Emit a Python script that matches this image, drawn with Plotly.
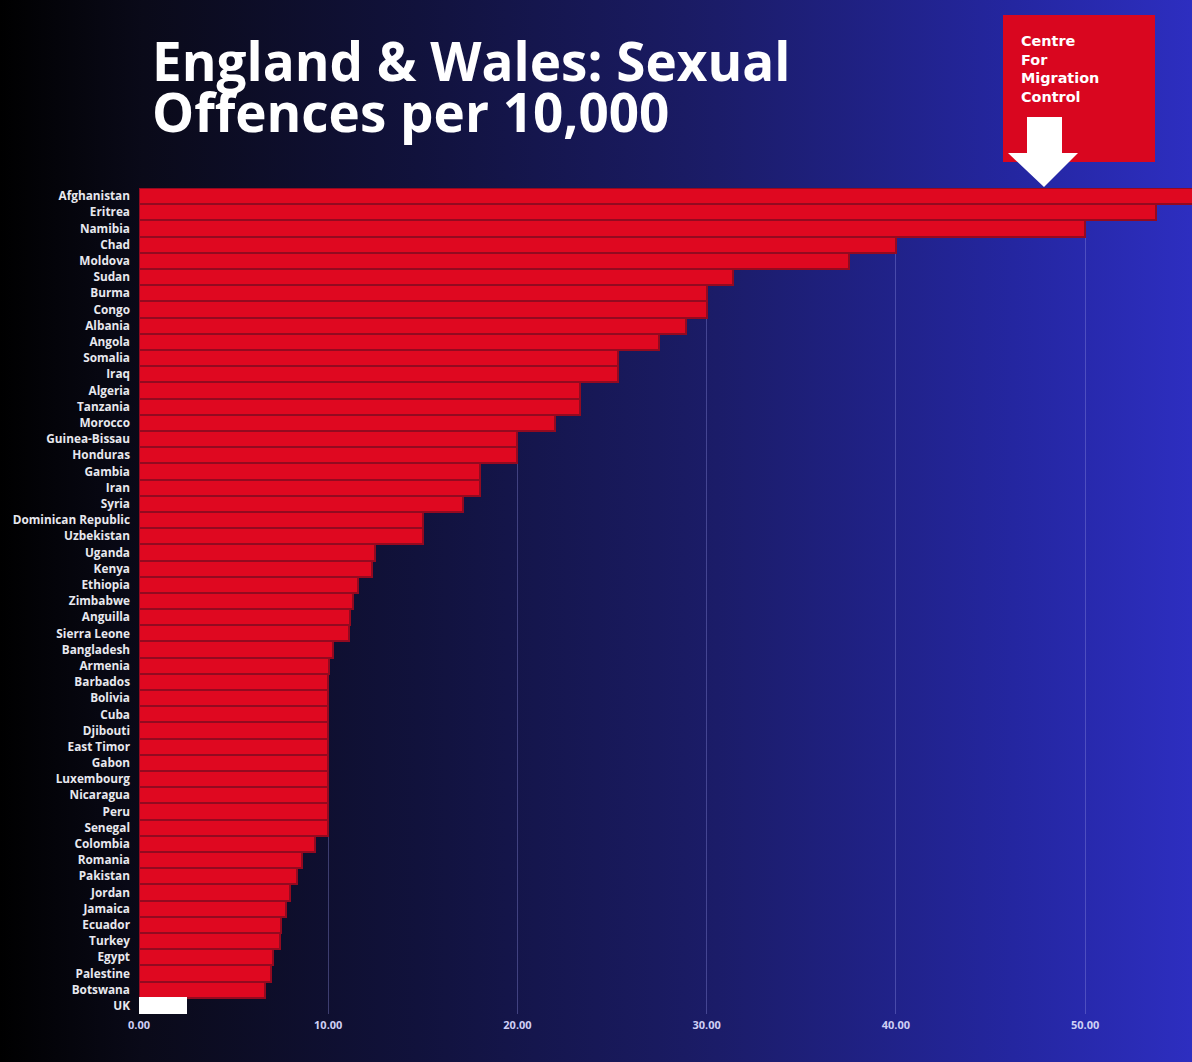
import base64

import plotly.graph_objects as go

# data, top to bottom
countries = [
    "Afghanistan", "Eritrea", "Namibia", "Chad", "Moldova", "Sudan", "Burma",
    "Congo", "Albania", "Angola", "Somalia", "Iraq", "Algeria", "Tanzania",
    "Morocco", "Guinea-Bissau", "Honduras", "Gambia", "Iran", "Syria",
    "Dominican Republic", "Uzbekistan", "Uganda", "Kenya", "Ethiopia",
    "Zimbabwe", "Anguilla", "Sierra Leone", "Bangladesh", "Armenia",
    "Barbados", "Bolivia", "Cuba", "Djibouti", "East Timor", "Gabon",
    "Luxembourg", "Nicaragua", "Peru", "Senegal", "Colombia", "Romania",
    "Pakistan", "Jordan", "Jamaica", "Ecuador", "Turkey", "Egypt",
    "Palestine", "Botswana", "UK",
]
offences_per_10k = [
    57.5, 53.75, 50.0, 40.0, 37.5, 31.4, 30.0,
    30.0, 28.9, 27.5, 25.3, 25.3, 23.3, 23.3,
    22.0, 20.0, 20.0, 18.0, 18.0, 17.1,
    15.0, 15.0, 12.45, 12.3, 11.55,
    11.3, 11.15, 11.1, 10.27, 10.03,
    10.0, 10.0, 10.0, 10.0, 10.0, 10.0,
    10.0, 10.0, 10.0, 10.0, 9.3, 8.6,
    8.33, 7.97, 7.75, 7.5, 7.44, 7.06,
    6.98, 6.64, 2.5,
]
tick_vals = [0, 10, 20, 30, 40, 50]
x_max = 55.65

title_lines = ["England & Wales: Sexual", "Offences per 10,000"]
logo_text = "Centre<br>For<br>Migration<br>Control"

RED = "#df0820"
FIG_W, FIG_H = 1192, 1062
L, R, T, B = 139, 0, 188, 48
PW, PH = FIG_W - L - R, FIG_H - T - B


def px_x(p):
    return (p - L) / PW


def px_y(p):
    return (FIG_H - B - p) / PH


# left-to-right dark to blue background
svg = (
    "<svg xmlns='http://www.w3.org/2000/svg' width='1192' height='1062' "
    "preserveAspectRatio='none'><defs><linearGradient id='g' x1='0' y1='0' "
    "x2='1' y2='0'>"
    "<stop offset='0' stop-color='#000000'/>"
    "<stop offset='0.12' stop-color='#0a0a19'/>"
    "<stop offset='0.35' stop-color='#11123c'/>"
    "<stop offset='0.6' stop-color='#1b1c68'/>"
    "<stop offset='0.85' stop-color='#2426a0'/>"
    "<stop offset='1' stop-color='#2d2ec0'/>"
    "</linearGradient></defs>"
    "<rect width='1192' height='1062' fill='url(#g)'/></svg>"
)
bg_src = "data:image/svg+xml;base64," + base64.b64encode(svg.encode()).decode()

bar_colors = ["#ffffff" if c == "UK" else RED for c in countries]
line_colors = ["#ffffff" if c == "UK" else "#930a20" for c in countries]

fig = go.Figure()
fig.add_trace(go.Bar(
    x=offences_per_10k,
    y=countries,
    orientation="h",
    marker=dict(color=bar_colors, line=dict(color=line_colors, width=2)),
    hoverinfo="x+y",
))

fig.update_layout(
    width=FIG_W,
    height=FIG_H,
    margin=dict(l=L, r=R, t=T, b=B),
    paper_bgcolor="#000000",
    plot_bgcolor="rgba(0,0,0,0)",
    bargap=0.0,
    showlegend=False,
    font=dict(family="Open Sans", color="#ffffff"),
    xaxis=dict(
        range=[0, x_max],
        tickvals=tick_vals,
        tickformat=".2f",
        showgrid=True,
        gridcolor="rgba(150,150,230,0.35)",
        gridwidth=1,
        zeroline=False,
        showline=False,
        ticks="",
        ticklabelstandoff=3,
        tickfont=dict(family="Open Sans", size=11, color="#cfcff5", weight="bold"),
    ),
    yaxis=dict(
        categoryorder="array",
        categoryarray=countries,
        autorange="reversed",
        showgrid=False,
        zeroline=False,
        showline=False,
        ticks="",
        ticklabelstandoff=8,
        tickfont=dict(family="Open Sans", size=11.8, color="#e8e8ee", weight="bold"),
    ),
    images=[dict(
        source=bg_src,
        xref="paper", yref="paper",
        x=px_x(0), y=px_y(0),
        sizex=FIG_W / PW, sizey=FIG_H / PH,
        xanchor="left", yanchor="top",
        sizing="stretch",
        layer="below",
    )],
)

# title, two separate lines for tight leading
for i, line in enumerate(title_lines):
    fig.add_annotation(
        text=line,
        xref="paper", yref="paper",
        x=px_x(150), y=px_y(99 + i * 51),
        xanchor="left", yanchor="bottom",
        showarrow=False,
        font=dict(family="Open Sans", size=53, color="#ffffff", weight="bold"),
    )

# logo box with arrow
fig.add_shape(
    type="rect", xref="paper", yref="paper",
    x0=px_x(1003), x1=px_x(1155), y0=px_y(162), y1=px_y(15),
    fillcolor="#d9061f", line=dict(width=0), layer="above",
)
arrow = [(1027, 117), (1062, 117), (1062, 153), (1078, 153),
         (1044, 187), (1008, 153), (1027, 153)]
path = "M " + " L ".join(f"{px_x(a):.5f},{px_y(b):.5f}" for a, b in arrow) + " Z"
fig.add_shape(
    type="path", xref="paper", yref="paper", path=path,
    fillcolor="#ffffff", line=dict(width=0), layer="above",
)
fig.add_annotation(
    text=logo_text,
    xref="paper", yref="paper",
    x=px_x(1019), y=px_y(31),
    xanchor="left", yanchor="top", align="left",
    showarrow=False,
    font=dict(family="DejaVu Sans", size=14.4, color="#ffffff", weight="bold"),
)

fig.write_html(
    "out.html",
    config={"displayModeBar": False},
    post_script="document.body.style.margin='0';",
)
